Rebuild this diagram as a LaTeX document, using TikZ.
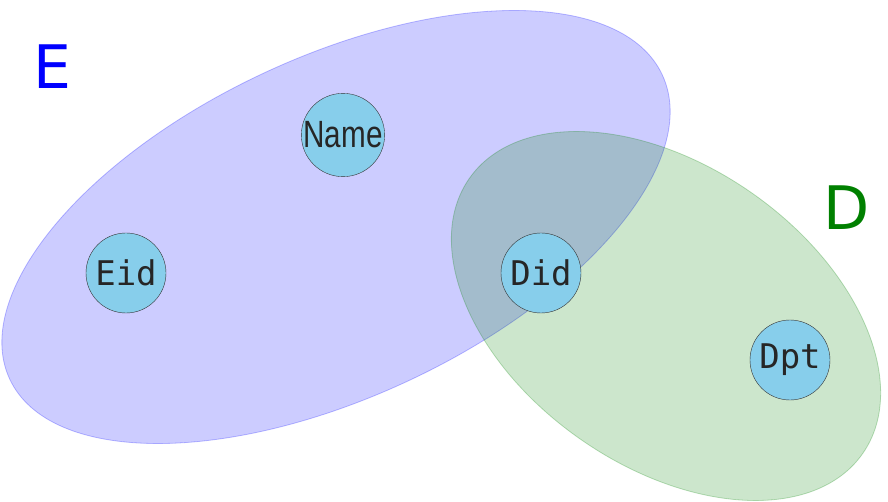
\documentclass[tikz,border=0pt]{standalone}
\usepackage{fontspec}
\setmainfont{DejaVu Sans}
\setmonofont{DejaVu Sans Mono}
\newfontfamily\namefont{Liberation Sans}

\definecolor{attrfill}{HTML}{87CEEB}
\definecolor{setgreen}{RGB}{0,128,0}

\tikzset{
	attr/.style={circle, draw=black!80, fill=attrfill, minimum size=80pt, inner sep=0pt,
		font=\ttfamily\fontsize{34}{34}\selectfont, text=black!85},
	setlabel/.style={font=\fontsize{60}{60}\selectfont, inner sep=0pt}
}

\begin{document}
\begin{tikzpicture}[x=1pt, y=-1pt]
	\useasboundingbox (0,0) rectangle (888,502);
	
	% Menge E (blau)
	\filldraw[fill=blue, fill opacity=0.2, draw=blue, draw opacity=0.25, thick,
		rotate around={25:(336,227)}] (336,227) ellipse (360 and 170);
	
	% Menge D (gruen)
	\filldraw[fill=setgreen, fill opacity=0.2, draw=setgreen, draw opacity=0.25, thick,
		rotate around={-35:(666,316)}] (666,316) ellipse (240 and 150);
	
	% Beschriftung der Mengen
	\node[setlabel, text=blue] (labelE) at (52,67) {E};
	\node[setlabel, text=setgreen] (labelD) at (847,208) {D};
	
	% Attribute
	\node[attr] (name) at (343,135) {\namefont\fontsize{38}{38}\selectfont\scalebox{0.78}[1]{Name}};
	\node[attr] (eid) at (126,273) {Eid};
	\node[attr] (did) at (541,273) {Did};
	\node[attr] (dpt) at (790,360) {Dpt};
\end{tikzpicture}
\end{document}
